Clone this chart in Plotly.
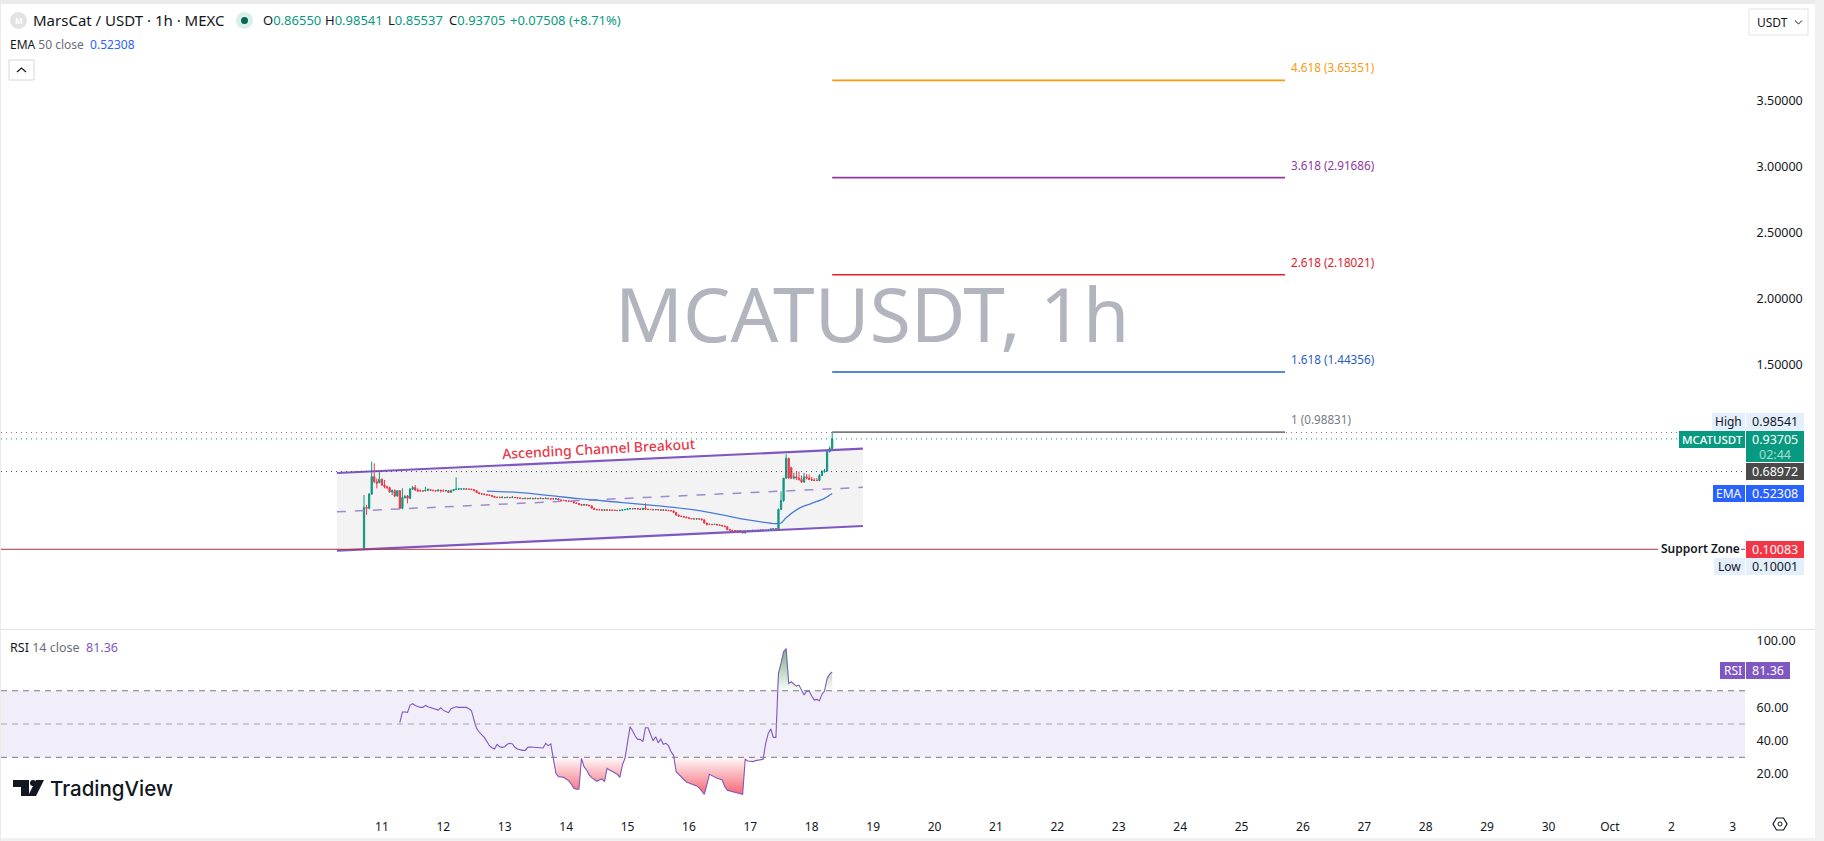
import pandas as pd
import plotly.graph_objects as go
from plotly.subplots import make_subplots

W, H = 1824, 841
FONT = "Noto Sans"

# hourly candles
candle_open = [.100, .419, .411, .520, .651, .613, .606, .631, .588, .575,
    .568, .535, .545, .505, .545, .411, .494, .505, .487, .558,
    .568, .550, .543, .543, .543, .548, .553, .548, .545, .543,
    .548, .545, .543, .545, .532, .545, .553, .556, .558, .558,
    .558, .556, .556, .553, .545, .530, .522, .520, .515, .512,
    .510, .502, .494, .494, .492, .494, .492, .494, .492, .494,
    .492, .489, .487, .484, .487, .484, .487, .484, .487, .484,
    .487, .484, .487, .484, .482, .482, .484, .475, .472, .470,
    .467, .465, .463, .452, .448, .440, .435, .440, .435, .430,
    .412, .402, .400, .400, .397, .400, .398, .398, .396, .396,
    .394, .396, .400, .402, .407, .409, .407, .409, .407, .402,
    .412, .405, .402, .402, .400, .402, .400, .397, .399, .396,
    .394, .392, .380, .360, .352, .350, .345, .340, .334, .332,
    .330, .332, .330, .324, .300, .290, .290, .288, .290, .285,
    .282, .278, .272, .250, .245, .243, .243, .241, .240, .224,
    .240, .243, .243, .245, .243, .245, .245, .247, .245, .248,
    .255, .258, .252, .402, .470, .640, .790, .720, .640, .650,
    .640, .630, .610, .650, .640, .630, .625, .622, .622, .660, .690, .695, .840, .8655]
candle_high = [.512, .436, .525, .765, .752, .638, .697, .638, .626, .583,
    .575, .555, .555, .550, .550, .563, .512, .512, .563, .580,
    .588, .563, .555, .550, .575, .563, .558, .553, .550, .558,
    .553, .555, .550, .548, .553, .558, .646, .566, .565, .563,
    .565, .560, .560, .556, .548, .532, .525, .522, .518, .515,
    .512, .505, .500, .500, .505, .497, .500, .498, .505, .497,
    .494, .492, .489, .492, .490, .492, .490, .492, .489, .492,
    .489, .494, .489, .487, .490, .490, .486, .477, .474, .472,
    .470, .467, .465, .454, .450, .442, .445, .442, .437, .432,
    .414, .405, .404, .402, .403, .402, .402, .400, .400, .398,
    .400, .402, .406, .410, .412, .411, .412, .411, .409, .414,
    .449, .408, .406, .404, .405, .404, .402, .402, .401, .398,
    .396, .394, .382, .364, .354, .352, .347, .342, .337, .335,
    .335, .335, .335, .326, .302, .295, .292, .293, .292, .288,
    .285, .280, .275, .252, .248, .247, .245, .244, .243, .243,
    .246, .247, .248, .248, .248, .249, .250, .250, .252, .258,
    .262, .262, .410, .540, .640, .820, .795, .725, .680, .690,
    .690, .660, .680, .672, .668, .650, .640, .640, .670, .700, .710, .850, .880, .98541]
candle_low = [.10001, .361, .404, .512, .601, .563, .601, .580, .563, .555,
    .530, .512, .494, .499, .404, .404, .484, .449, .484, .550,
    .543, .535, .537, .537, .540, .545, .543, .540, .537, .540,
    .530, .535, .538, .530, .530, .543, .550, .553, .555, .555,
    .553, .553, .550, .543, .528, .520, .517, .512, .510, .507,
    .500, .492, .490, .489, .490, .489, .490, .489, .490, .489,
    .487, .484, .482, .482, .482, .482, .482, .482, .482, .482,
    .482, .482, .482, .480, .480, .480, .473, .470, .468, .465,
    .463, .461, .450, .446, .437, .433, .433, .433, .428, .410,
    .400, .398, .398, .395, .395, .396, .395, .394, .394, .392,
    .392, .394, .398, .400, .405, .405, .405, .404, .400, .400,
    .400, .400, .400, .398, .398, .398, .395, .395, .394, .392,
    .390, .378, .356, .350, .348, .343, .338, .332, .330, .328,
    .328, .328, .322, .295, .280, .285, .285, .285, .283, .280,
    .276, .270, .245, .243, .241, .241, .239, .238, .222, .222,
    .238, .241, .241, .241, .241, .243, .243, .243, .243, .246,
    .252, .252, .250, .400, .460, .635, .635, .632, .630, .625,
    .620, .605, .605, .630, .625, .620, .618, .618, .618, .655, .680, .690, .835, .85537]
candle_close = [.419, .411, .520, .651, .613, .601, .631, .588, .575, .568,
    .535, .545, .505, .545, .411, .494, .499, .487, .558, .568,
    .550, .543, .543, .543, .548, .553, .548, .545, .543, .548,
    .545, .543, .545, .532, .545, .553, .556, .558, .558, .558,
    .556, .556, .553, .545, .530, .522, .520, .515, .512, .510,
    .502, .494, .494, .492, .494, .492, .494, .492, .494, .492,
    .489, .487, .484, .487, .484, .487, .484, .487, .484, .487,
    .484, .487, .484, .482, .482, .484, .475, .472, .470, .467,
    .465, .463, .452, .448, .440, .435, .440, .435, .430, .412,
    .402, .400, .400, .397, .400, .398, .398, .396, .396, .394,
    .396, .400, .402, .407, .409, .407, .409, .407, .402, .412,
    .405, .402, .402, .400, .402, .400, .397, .399, .396, .394,
    .392, .380, .360, .352, .350, .345, .340, .334, .332, .330,
    .332, .330, .324, .300, .290, .290, .288, .290, .285, .282,
    .278, .272, .250, .245, .243, .243, .241, .240, .224, .240,
    .243, .243, .245, .243, .245, .245, .247, .245, .248, .255,
    .258, .256, .402, .470, .640, .790, .640, .640, .650, .640,
    .630, .610, .650, .640, .630, .625, .622, .622, .660, .690, .695, .840, .8655, .93705]

# RSI, one value per hour, last bar lines up with the last candle
rsi_values = [50.8, 57.2, 57.2, 57, 61.4, 62.2, 61.2, 60.6, 60, 60, 61.2, 60.4, 59.8, 59.4, 59, 58.4, 59.8, 58.2, 57.6,
    56.8, 59.2, 59.8, 60.4, 60, 60, 59.8, 60, 59.2, 58, 52.4, 47.4, 45.2, 43.8, 42, 39.6, 37, 35.8, 35, 37.8,
    36.4, 36, 36.4, 37.8, 38.4, 38, 36, 35, 34.4, 34.2, 34.2, 36, 36.2, 36, 36, 35.6, 35.6, 35.6, 38.4, 37, 38, 29.4,
    20.4, 18.4, 18.2, 18, 17, 16, 14, 11.4, 10.8, 10.8, 29.4, 24.4, 22.4, 19.4, 17.8, 16.4, 15.6, 16.4, 17, 15.4,
    23.4, 22.4, 21.4, 20.8, 19.8, 18, 25.4, 29.4, 38.4, 48.4, 45.8, 42.8, 40.8, 40.8, 39.4, 47.8, 47.8, 43.4,
    40, 42.4, 38.8, 41, 37.8, 38.4, 37, 33.4, 31.2, 21.4, 19.8, 18.4, 16.4, 15.2, 14.6, 14, 13.8, 12.8, 11.6,
    9.8, 7.8, 13.4, 19.8, 19, 18, 17.4, 17, 16.4, 12.4, 10.2, 9.8, 9.4, 8.8, 8.4, 8, 7.8, 28.8, 27.8, 27.6,
    27.4, 28, 28.2, 28.6, 28.8, 38.4, 44.4, 47, 42, 42, 80.4, 86.4, 93.4, 95.4, 74.4, 75.4, 74, 72.8, 73.4, 70.4,
    67.4, 69.8, 69.8, 66.8, 64.4, 64.8, 64, 67.8, 69.8, 77.4, 80, 81.36]

# EMA 50, hours counted from 11 Sep 00:00
ema_hours = [41, 54, 66, 77, 93, 105, 114, 124, 133, 143, 152, 154, 156, 158, 163, 168, 173, 176]
ema_values = [.542, .530, .507, .484, .457, .436, .419, .394, .361, .323, .298, .295, .300, .340, .411, .449, .487, .52308]

# channel, same hour count
channel_hours = [-17.6, 188]
channel_top = [.6789, .8629]
channel_mid = [.3846, .5701]
channel_bottom = [.0902, .2773]

# fib extension
fib_hours = [176, 353]
fib_names = ["1", "1.618", "2.618", "3.618", "4.618"]
fib_prices = [.98831, 1.44356, 2.18021, 2.91686, 3.65351]
fib_colors = ["#787b86", "#1f5fbf", "#e0202e", "#8e3a9e", "#f39c12"]

high_price, close_price, line_price, support_price = .98541, .93705, .68972, .10083
price_ticks = [1.5, 2, 2.5, 3, 3.5]
price_labels = ["1.50000", "2.00000", "2.50000", "3.00000", "3.50000"]
rsi_ticks = [20, 40, 60, 100]
rsi_labels = ["20.00", "40.00", "60.00", "100.00"]
day_labels = ["11", "12", "13", "14", "15", "16", "17", "18", "19", "20", "21", "22", "23", "24", "25", "26",
    "27", "28", "29", "30", "Oct", "2", "3"]

base = pd.Timestamp("2025-09-11")
def at(hours):
    return base + pd.Timedelta(hours=hours)

candle_t = pd.date_range(at(-7), periods=len(candle_close), freq="h")
rsi_t = pd.date_range(end=candle_t[-1], periods=len(rsi_values), freq="h")
day_t = pd.date_range(base, periods=len(day_labels), freq="D")


def fx(x):
    return x / W


def fy(y):
    return 1 - y / H


fig = make_subplots(rows=2, cols=1, shared_xaxes=True)

# channel background + lines (scatter sits over the candles, so the fill has to be see-through)
ct = [at(h) for h in channel_hours]
fig.add_trace(go.Scatter(x=ct + ct[::-1], y=channel_top + channel_bottom[::-1], fill="toself",
                         fillcolor="rgba(120,123,134,.09)", mode="none"), row=1, col=1)
fig.add_trace(go.Scatter(x=ct, y=channel_mid, mode="lines", line=dict(color="#9d8ccb", width=1.5, dash="dash")), row=1, col=1)
fig.add_trace(go.Scatter(x=ct, y=channel_top, mode="lines", line=dict(color="#7e57c2", width=2.2)), row=1, col=1)
fig.add_trace(go.Scatter(x=ct, y=channel_bottom, mode="lines", line=dict(color="#7e57c2", width=2.2)), row=1, col=1)

# fib levels
ft = [at(h) for h in fib_hours]
for name, price, color in zip(fib_names, fib_prices, fib_colors):
    fig.add_trace(go.Scatter(x=ft, y=[price, price], mode="lines", line=dict(color=color, width=1.6)), row=1, col=1)
    fig.add_annotation(x=at(fib_hours[1] + 1.6), y=price, xref="x", yref="y", xanchor="left", yanchor="middle",
                       yshift=13, showarrow=False, text=f"{name} ({price:.5f})",
                       font=dict(family=FONT, size=11.7, color=color))

fig.add_trace(go.Candlestick(x=candle_t, open=candle_open, high=candle_high, low=candle_low, close=candle_close,
                             increasing=dict(line=dict(color="#089981", width=1), fillcolor="#089981"),
                             decreasing=dict(line=dict(color="#f23645", width=1), fillcolor="#f23645"),
                             whiskerwidth=0), row=1, col=1)
fig.add_trace(go.Scatter(x=[at(h) for h in ema_hours], y=ema_values, mode="lines",
                         line=dict(color="#4a7bd8", width=1.3, shape="spline")), row=1, col=1)

# RSI fills
rsi_low = [min(v, 30) for v in rsi_values]
rsi_high = [max(v, 70) for v in rsi_values]
fig.add_trace(go.Scatter(x=rsi_t, y=[30] * len(rsi_t), mode="lines", line=dict(width=0)), row=2, col=1)
fig.add_trace(go.Scatter(x=rsi_t, y=rsi_low, mode="lines", line=dict(width=0), fill="tonexty",
                         fillgradient=dict(type="vertical", start=8, stop=30,
                                           colorscale=[[0, "rgba(242,54,69,.75)"], [1, "rgba(242,54,69,.03)"]])), row=2, col=1)
fig.add_trace(go.Scatter(x=rsi_t, y=[70] * len(rsi_t), mode="lines", line=dict(width=0)), row=2, col=1)
fig.add_trace(go.Scatter(x=rsi_t, y=rsi_high, mode="lines", line=dict(width=0), fill="tonexty",
                         fillgradient=dict(type="vertical", start=96, stop=70,
                                           colorscale=[[0, "rgba(56,142,60,.7)"], [1, "rgba(56,142,60,.02)"]])), row=2, col=1)
fig.add_trace(go.Scatter(x=rsi_t, y=rsi_values, mode="lines", line=dict(color="#7e57c2", width=1.1)), row=2, col=1)

shapes = []


def box(x0, y0, x1, y1, color, line=None, layer="above"):
    shapes.append(dict(type="rect", xref="paper", yref="paper", x0=fx(x0), x1=fx(x1), y0=fy(y0), y1=fy(y1),
                       fillcolor=color, line=dict(color=line or color, width=1 if line else 0), layer=layer))


def hline(y, color, xr=(1, 1745), dash="solid", width=1, yref="y"):
    shapes.append(dict(type="line", xref="paper", yref=yref, x0=fx(xr[0]), x1=fx(xr[1]), y0=y, y1=y,
                       line=dict(color=color, width=width, dash=dash), layer="above"))


def path(points, color=None, line="#131722", width=1, close=True):
    d = "M" + " L".join(f"{fx(a):.5f},{fy(b):.5f}" for a, b in points) + (" Z" if close else "")
    shapes.append(dict(type="path", xref="paper", yref="paper", path=d, fillcolor=color or "rgba(0,0,0,0)",
                       line=dict(color=line, width=width), layer="above"))


def text(x, y, s, size=12.5, color="#131722", anchor="left", weight=None, family=FONT):
    fig.add_annotation(x=fx(x), y=fy(y), xref="paper", yref="paper", xanchor=anchor, yanchor="middle",
                       showarrow=False, text=s, font=dict(family=family, size=size, color=color, weight=weight),
                       borderpad=0, borderwidth=0)


# RSI band and levels
shapes.append(dict(type="rect", xref="paper", yref="y2", x0=fx(1), x1=fx(1745), y0=30, y1=70,
                   fillcolor="#f1edf9", line=dict(width=0), layer="below"))
hline(70, "#787b86", dash="6px,5px", yref="y2")
hline(50, "#a9a6b3", dash="6px,5px", yref="y2")
hline(30, "#787b86", dash="6px,5px", yref="y2")

# price lines
hline(high_price, "#787b86", dash="1px,4px")
hline(close_price, "#089981", xr=(1, 1679), dash="1px,4px")
hline(line_price, "#4a4a4a", dash="1px,4px")
hline(support_price, "#b5303c", xr=(1, 1658))
hline(support_price, "#b5303c", xr=(1741, 1745))

# frame
box(0, 0, W, 4, "#ebebeb")
box(1815, 0, W, H, "#f0f0f0")
box(0, 838, W, H, "#f0f0f0")
box(0, 0, 1, H, "#ebebeb")
box(1, 629, 1815, 630, "#e0e3eb")

# right hand labels
LIGHT = "#e3effd"
box(1712, 413, 1745, 431, LIGHT)
box(1746, 413, 1804, 431, LIGHT)
text(1728.5, 421, "High", 12, anchor="center")
text(1775, 421, "0.98541", 12.5, anchor="center")
box(1679, 431, 1745, 448, "#089981")
box(1746, 431, 1804, 462, "#089981")
text(1712, 439.5, "MCATUSDT", 11.5, "#ffffff", anchor="center", weight=500)
text(1775, 439.5, "0.93705", 12.5, "#ffffff", anchor="center")
text(1775, 454, "02:44", 12.5, "#a5dcd0", anchor="center")
box(1746, 463, 1804, 480, "#4a4a4a")
text(1775, 471.5, "0.68972", 12.5, "#ffffff", anchor="center")
box(1713, 485, 1745, 502, "#2962ff")
box(1746, 485, 1804, 502, "#2962ff")
text(1729, 493.5, "EMA", 12, "#ffffff", anchor="center")
text(1775, 493.5, "0.52308", 12.5, "#ffffff", anchor="center")
text(1661, 548, "Support Zone", 12, "#131722", weight=600)
box(1746, 541, 1804, 558, "#f23645")
text(1775, 549.5, "0.10083", 12.5, "#ffffff", anchor="center")
box(1714, 558, 1745, 575, LIGHT)
box(1746, 558, 1804, 575, LIGHT)
text(1729.5, 566.5, "Low", 12, anchor="center")
text(1775, 566.5, "0.10001", 12.5, anchor="center")
box(1720, 662, 1745, 679, "#7e57c2")
box(1746, 662, 1790, 679, "#7e57c2")
text(1732.5, 670.5, "RSI", 12, "#ffffff", anchor="center")
text(1768, 670.5, "81.36", 12.5, "#ffffff", anchor="center")

# header
shapes.append(dict(type="circle", xref="paper", yref="paper", x0=fx(10), x1=fx(27), y0=fy(29), y1=fy(12),
                   fillcolor="#e3e3e3", line=dict(width=0), layer="above"))
text(18.5, 20.5, "M", 8, "#ffffff", anchor="center", weight=700)
text(33, 20.5, "MarsCat / USDT · 1h · MEXC", 15)
shapes.append(dict(type="circle", xref="paper", yref="paper", x0=fx(236), x1=fx(253), y0=fy(29), y1=fy(12),
                   fillcolor="#d9efea", line=dict(width=0), layer="above"))
shapes.append(dict(type="circle", xref="paper", yref="paper", x0=fx(241), x1=fx(248), y0=fy(24), y1=fy(17),
                   fillcolor="#056656", line=dict(width=0), layer="above"))
G = '<span style="color:#089981">%s</span>'
for xpos, letter, value in [(263, "O", "0.86550"), (325, "H", "0.98541"), (388, "L", "0.85537"), (449, "C", "0.93705")]:
    text(xpos, 20.5, letter + G % value, 13)
text(510, 20.5, G % "+0.07508 (+8.71%)", 13)
text(10, 44, 'EMA <span style="color:#6a6d78">50 close</span>  <span style="color:#2962ff">0.52308</span>', 12)
box(9, 60, 34, 80, "#ffffff", line="#d6d8df")
path([(17, 72), (21.5, 68), (26, 72)], close=False, width=1.2)
text(10, 647, 'RSI <span style="color:#6a6d78">14 close</span>  <span style="color:#7e57c2">81.36</span>', 12.5)

# usdt switch
box(1749, 9, 1808, 35, "#ffffff", line="#e0e3eb")
text(1757, 22, "USDT", 12)
path([(1795, 20.5), (1798.5, 24), (1802, 20.5)], close=False)

# watermark and drawing label
text(872, 313, "MCATUSDT, 1h", 75, "#b2b5be", anchor="center")
fig.add_annotation(x=at(84.8), y=.8607, xref="x", yref="y", showarrow=False, textangle=-3,
                   text="Ascending Channel Breakout", font=dict(family=FONT, size=14, color="#e8394a", weight=500))

# logo
path([(13, 780), (29, 780), (29, 796), (21, 796), (21, 787), (13, 787)], color="#131722", width=0)
shapes.append(dict(type="circle", xref="paper", yref="paper", x0=fx(30), x1=fx(36), y0=fy(786), y1=fy(780),
                   fillcolor="#131722", line=dict(width=0), layer="above"))
path([(36, 780), (44, 780), (36, 796), (28, 796)], color="#131722", width=0)
text(50, 788, "TradingView", 20.5, "#131722", weight=500, family="Inter")

# settings icon
path([(1773, 824), (1776.5, 818), (1783.5, 818), (1787, 824), (1783.5, 830), (1776.5, 830)], width=1.2)
shapes.append(dict(type="circle", xref="paper", yref="paper", x0=fx(1778), x1=fx(1782), y0=fy(826), y1=fy(822),
                   line=dict(color="#131722", width=1), layer="above"))

fig.update_layout(width=W, height=H, margin=dict(l=0, r=0, t=0, b=0), autosize=False, showlegend=False,
                  paper_bgcolor="#ffffff", plot_bgcolor="#ffffff", hovermode=False, shapes=shapes,
                  font=dict(family=FONT, size=12, color="#131722"))
x_range = [at(-148.9), at(532.8)]
fig.update_xaxes(range=x_range, domain=[fx(1), fx(1745)], showgrid=False, zeroline=False, showline=False,
                 rangeslider_visible=False)
fig.update_xaxes(showticklabels=False, ticks="", row=1, col=1)
fig.update_xaxes(tickmode="array", tickvals=day_t, ticktext=day_labels, ticks="outside", ticklen=11,
                 tickcolor="rgba(0,0,0,0)", tickangle=0, tickfont=dict(size=12), row=2, col=1)
fig.update_yaxes(side="right", showgrid=False, zeroline=False, showline=False, ticks="outside", ticklen=8,
                 tickcolor="rgba(0,0,0,0)", tickfont=dict(size=12.5))
fig.update_yaxes(domain=[fy(629), fy(14)], range=[-.503, 4.1561], tickmode="array", tickvals=price_ticks,
                 ticktext=price_labels, row=1, col=1)
fig.update_yaxes(domain=[fy(805), fy(630)], range=[1.35, 106.5], tickmode="array", tickvals=rsi_ticks,
                 ticktext=rsi_labels, row=2, col=1)

fig.write_html("out.html", config={"displayModeBar": False},
               post_script="document.body.style.margin='0';document.body.style.overflow='hidden';")
